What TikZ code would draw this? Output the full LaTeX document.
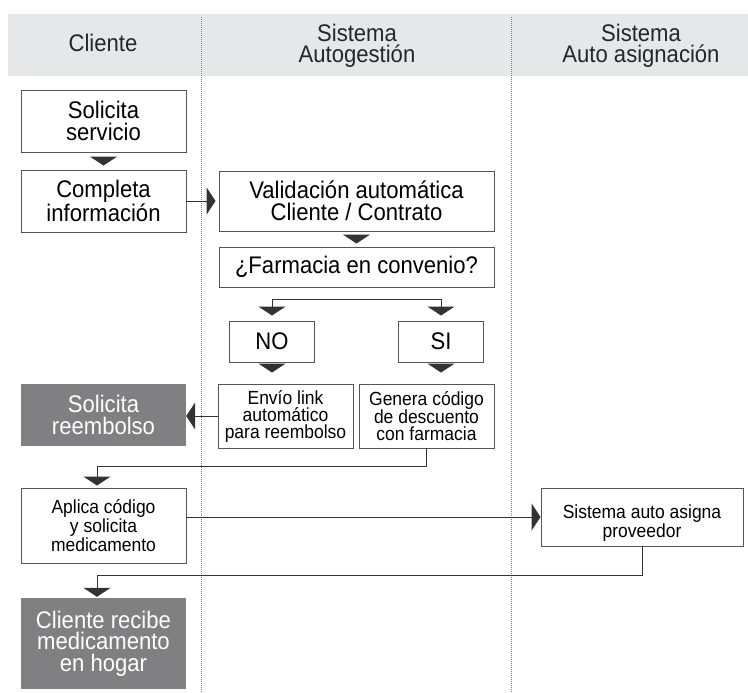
\documentclass[tikz,border=0pt]{standalone}
\usepackage{fontspec}
\setmainfont[FakeStretch=0.92]{Liberation Sans}
\usetikzlibrary{arrows.meta}
\definecolor{hdr}{HTML}{E6E7E8}
\definecolor{dk}{HTML}{808083}
\definecolor{ln}{HTML}{333333}
\definecolor{bd}{HTML}{555555}
\definecolor{dv}{HTML}{808080}
\newcommand\bigtxt{\fontsize{24}{21.5}\selectfont}
\newcommand\hdrtxt{\fontsize{24}{21}\selectfont}
\newcommand\smtxt{\fontsize{19}{17}\selectfont}
\tikzset{
  box/.style={draw=bd, line width=0.9pt, fill=white, inner sep=0pt, align=center, font=\bigtxt},
  dbox/.style={fill=dk, text=white, inner sep=0pt, align=center, font=\bigtxt},
  hdtext/.style={inner sep=0pt, align=center, font=\hdrtxt, text=black!85},
  flow/.style={draw=ln, line width=1pt, -{Triangle[width=27pt,length=9pt]}},
  plain/.style={draw=ln, line width=1pt},
  divider/.style={draw=dv, line width=0.8pt, dash pattern=on 1pt off 1pt}
}
\begin{document}
\begin{tikzpicture}[x=1pt,y=-1pt]
\useasboundingbox (0,0) rectangle (748,693);
% header band
\fill[hdr] (8,14) rectangle (748,76);
\node[hdtext] (h1) at (103,43) {Cliente};
\node[hdtext] (h2) at (357,46) {Sistema\\Autogestión};
\node[hdtext] (h3) at (641,46) {Sistema\\Auto asignación};
% lane dividers
\draw[divider] (201,17) -- (201,693);
\draw[divider] (511,17) -- (511,693);
% boxes
\node[box, minimum width=165pt, minimum height=62pt] (ss) at (103.5,121) {Solicita\\servicio};
\node[box, minimum width=165pt, minimum height=62pt] (ci) at (103.5,201) {Completa\\información};
\node[box, minimum width=275pt, minimum height=60pt] (va) at (356.5,201) {Validación automática\\Cliente / Contrato};
\node[box, minimum width=275pt, minimum height=40pt] (fc) at (356.5,267) {¿Farmacia en convenio?};
\node[box, minimum width=85pt, minimum height=41pt] (no) at (272,341.5) {NO};
\node[box, minimum width=85pt, minimum height=41pt] (si) at (441,341.5) {SI};
\node[box, minimum width=135pt, minimum height=64pt, font=\smtxt] (ev) at (285.5,416) {Envío link\\automático\\para reembolso};
\node[box, minimum width=135pt, minimum height=64pt, font=\smtxt] (ge) at (426.5,416) {Genera código\\de descuento\\con farmacia};
\node[dbox, minimum width=165pt, minimum height=62pt] (sr) at (103.5,415) {Solicita\\reembolso};
\node[box, minimum width=165pt, minimum height=75pt, font=\fontsize{19}{15.5}\selectfont] (ap) at (103.5,525.5) {Aplica código\\y solicita\\medicamento};
\node[box, minimum width=202pt, minimum height=58pt, font=\fontsize{19}{16}\selectfont] (sa) at (642,517) {\rule{0pt}{26pt}Sistema auto asigna\\proveedor};
\node[dbox, minimum width=165pt, minimum height=91pt] (cr) at (103.5,643.5) {Cliente recibe\\medicamento\\en hogar};
% connectors
\draw[flow, shorten <=5pt, shorten >=4pt] (ss.south) -- (ci.north);
\draw[flow, shorten >=3pt] (ci.east) -- (va.west);
\draw[flow, shorten <=5pt, shorten >=3pt] (va.south) -- (fc.north);
\coordinate (bl) at (272,299);
\coordinate (br) at (441,299);
\draw[plain] (bl) -- (br);
\draw[flow, shorten >=5pt] (bl) -- (no.north);
\draw[flow, shorten >=5pt] (br) -- (si.north);
\draw[flow, shorten <=3pt, shorten >=11pt] (no.south) -- (no.south |- ev.north);
\draw[flow, shorten <=3pt, shorten >=11pt] (si.south) -- (si.south |- ge.north);
\draw[flow] (ev.west) -- (ev.west -| sr.east);
\coordinate (j1) at (97,466);
\draw[flow, shorten >=2pt] (ge.south) |- (j1) -- (j1 |- ap.north);
\draw[flow] (sa.west -| ap.east) -- (sa.west);
\coordinate (j2) at (97,575);
\draw[flow, shorten >=1pt] (sa.south) |- (j2) -- (j2 |- cr.north);
\end{tikzpicture}
\end{document}
